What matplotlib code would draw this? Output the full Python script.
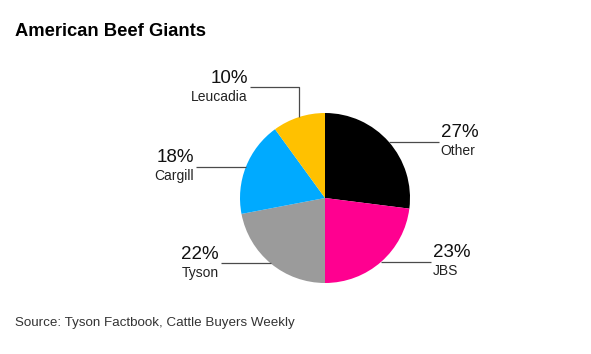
import numpy as np
import matplotlib
matplotlib.use("Agg")
import matplotlib.pyplot as plt

plt.rcParams['font.family'] = ['Liberation Sans', 'DejaVu Sans']

# ---- data ----
categories = ["Other", "JBS", "Tyson", "Cargill", "Leucadia"]
shares = [27, 23, 22, 18, 10]
colors = ["#000000", "#ff0090", "#9b9b9b", "#00aaff", "#ffc100"]
title = "American Beef Giants"
source = "Source: Tyson Factbook, Cattle Buyers Weekly"

W, H = 591, 354
fig = plt.figure(figsize=(W / 100, H / 100), dpi=100)
ax = fig.add_axes([0, 0, 1, 1])

cx, cy, r = 325, 198, 85
# y axis inverted (pixel coords): data angle -90 is visual top, increasing = clockwise visually
wedges, _ = ax.pie(shares, colors=colors, startangle=-90, counterclock=True,
                   center=(cx, cy), radius=r, wedgeprops=dict(linewidth=0))
ax.set_xlim(0, W)
ax.set_ylim(H, 0)
ax.set_aspect('equal')
ax.axis('off')

line_kw = dict(color="#4a4a4a", lw=0.9, solid_capstyle='butt')
pct_kw = dict(fontsize=13.5, color="#111111")
lab_kw = dict(fontsize=10, color="#222222")

for w, cat, s in zip(wedges, categories, shares):
    mid = np.deg2rad((w.theta1 + w.theta2) / 2)
    ex, ey = cx + r * np.cos(mid), cy + r * np.sin(mid)
    if cat == "Leucadia":
        ytop = ey - 30
        ax.plot([ex, ex, ex - 49], [ey, ytop, ytop], **line_kw)
        endx, ly = ex - 49, ytop
    else:
        right = np.cos(mid) > 0
        endx = ex + 50 if right else ex - 50
        ly = ey
        ax.plot([ex, endx], [ly, ly], **line_kw)
    if endx > cx:
        ha, tx = 'left', endx + 2
    else:
        ha, tx = 'right', endx - 2
    ax.text(tx, ly - 9, f"{s}%", ha=ha, va='center', **pct_kw)
    ax.text(tx, ly + 9.5, cat, ha=ha, va='center', **lab_kw)

fig.text(15 / W, 1 - 31 / H, title, fontsize=13.2, fontweight='bold',
         ha='left', va='center', color="#000000")
fig.text(15 / W, 1 - 323 / H, source, fontsize=9.6, ha='left', va='center',
         color="#333333")

fig.savefig("out.png", dpi=100)
